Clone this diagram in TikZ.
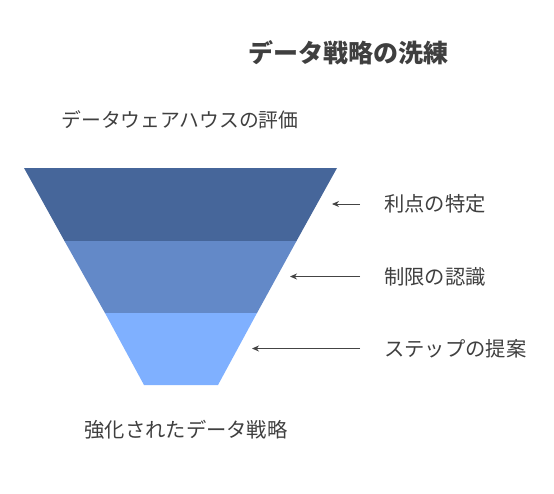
\documentclass[tikz,border=0pt]{standalone}
\usepackage{fontspec}
\usetikzlibrary{arrows.meta}
\newfontfamily\jpfont{Noto Sans CJK JP}
\definecolor{bandA}{HTML}{46669A}
\definecolor{bandB}{HTML}{6389C8}
\definecolor{bandC}{HTML}{7FB0FF}
\definecolor{txtgray}{HTML}{3F3F3F}
\definecolor{arrgray}{HTML}{444444}

\begin{document}
\begin{tikzpicture}[x=1pt,y=-1pt,
		lbl/.style={font=\jpfont\fontsize{20.3}{21}\selectfont, text=txtgray, inner sep=0pt},
		ttl/.style={font=\jpfont\bfseries\fontsize{25}{27}\selectfont, text=txtgray, inner sep=0pt},
		arr/.style={-{Stealth[length=7pt,width=6pt]}, draw=arrgray, line width=0.9pt}]
		\useasboundingbox (0,0) rectangle (554,493);
		\node[ttl] (title) at (348,53) {データ戦略の洗練};
		\node[lbl, font=\jpfont\fontsize{19.8}{21}\selectfont] (top) at (180,120) {データウェアハウスの評価};
		\node[lbl] (bottom) at (186,430) {強化されたデータ戦略};
		\fill[bandA] (24,168) -- (337,168) -- (296.5,241) -- (64.5,241) -- cycle;
		\fill[bandB] (64.5,241) -- (296.5,241) -- (257,313) -- (105,313) -- cycle;
		\fill[bandC] (105,313) -- (257,313) -- (218,385) -- (144,385) -- cycle;
		\node[lbl, anchor=west] (l1) at (384,204) {利点の特定};
		\node[lbl, anchor=west] (l2) at (384,276.5) {制限の認識};
		\node[lbl, anchor=west] (l3) at (384,348.5) {ステップの提案};
		\coordinate (t1) at (332,204);
		\coordinate (t2) at (290,276.5);
		\coordinate (t3) at (252,348.5);
		\foreach \i in {1,2,3} \draw[arr] ([xshift=-24pt]l\i.west) -- (t\i);
	\end{tikzpicture}
\end{document}
